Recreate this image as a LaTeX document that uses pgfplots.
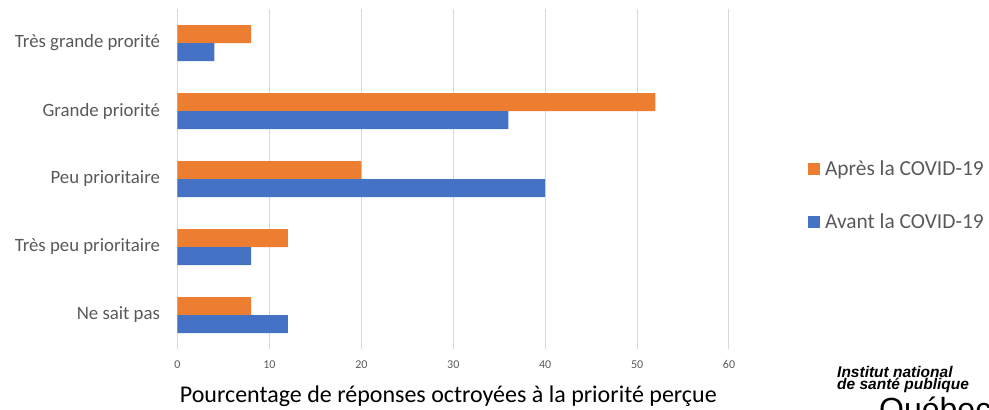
\documentclass[border=0pt]{standalone}
\usepackage{pgfplots}
\pgfplotsset{compat=1.18}
\usepackage{fontspec}
\setmainfont{Carlito}
\newfontfamily\logofont{Liberation Sans}
\definecolor{cOrange}{HTML}{ED7D31}
\definecolor{cBlue}{HTML}{4472C4}
\definecolor{cGrid}{HTML}{D9D9D9}
\definecolor{cText}{HTML}{595959}
\begin{document}
\begin{tikzpicture}[x=1pt,y=1pt]
\useasboundingbox (0,0) rectangle (989,410);
\begin{axis}[
  at={(177.5pt,61pt)}, anchor=south west,
  scale only axis, width=551.5pt, height=340pt,
  xbar, bar width=18pt,
  xmin=0, xmax=60, ymin=-0.5, ymax=4.5,
  axis line style={draw=none},
  xmajorgrids, grid style={cGrid, line width=1pt},
  xtick={0,10,...,60},
  ytick={0,1,2,3,4},
  yticklabels={Ne sait pas, Très peu prioritaire, Peu prioritaire, Grande priorité, Très grande prorité},
  major tick length=0pt,
  /pgf/number format/assume math mode=true,
  x tick label style={font=\fontsize{12}{14}\selectfont, text=cText, yshift=-8pt},
  y tick label style={font=\fontsize{18.8}{22}\selectfont, text=cText, anchor=east, xshift=-14pt},
  xlabel={Pourcentage de réponses octroyées à la priorité perçue},
  every axis x label/.style={at={(axis description cs:0.491,0)}, anchor=center, yshift=-47pt, font=\fontsize{24}{28}\selectfont, text=black},
  legend style={draw=none, fill=none, at={(axis description cs:1.143,0.561)}, anchor=north west, font=\fontsize{21.4}{24}\selectfont, text=cText, row sep=33pt, inner sep=0pt, legend cell align=left, nodes={inner xsep=5pt}},
  legend image code/.code={\fill[#1] (0pt,-6pt) rectangle (12pt,6pt);},
  clip=false,
]
\addplot[fill=cOrange, draw=none, bar shift=9pt] coordinates {(8,0) (12,1) (20,2) (52,3) (8,4)};
\addlegendentry{Après la COVID-19}
\addplot[fill=cBlue, draw=none, bar shift=-9pt] coordinates {(12,0) (8,1) (40,2) (36,3) (4,4)};
\addlegendentry{Avant la COVID-19}
\end{axis}
\node[anchor=base west, inner sep=0pt, font=\logofont\bfseries\itshape\fontsize{15.5}{15}\selectfont] at (837,32.5) {Institut national};
\node[anchor=base west, inner sep=0pt, font=\logofont\bfseries\itshape\fontsize{15.5}{15}\selectfont] at (837,20) {de santé publique};
\node[anchor=base west, inner sep=0pt, font=\logofont\fontsize{32}{32}\selectfont] at (879,-10) {Québec};
\end{tikzpicture}
\end{document}
